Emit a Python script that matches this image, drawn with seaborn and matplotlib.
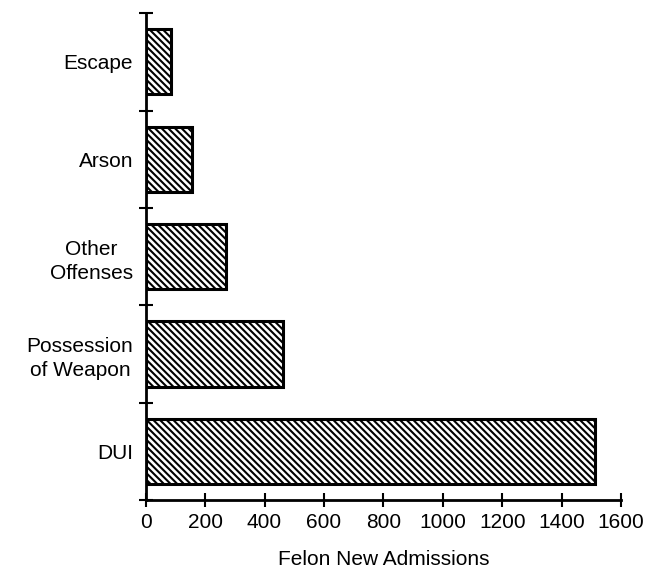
import matplotlib
matplotlib.use("Agg")
import matplotlib.pyplot as plt
import numpy as np
import pandas as pd
import seaborn as sns

sns.set_style("ticks", {"text.color": "black", "axes.labelcolor": "black",
                        "xtick.color": "black", "ytick.color": "black",
                        "axes.edgecolor": "black"})
plt.rcParams['font.family'] = ['Liberation Sans', 'DejaVu Sans']
plt.rcParams['hatch.linewidth'] = 1.5

# offense categories, top to bottom
offenses = ["Escape", "Arson", "Other\nOffenses", "Possession\nof Weapon", "DUI"]
admissions = [85, 156, 270, 461, 1513]

data = pd.DataFrame({"offense": offenses, "admissions": admissions})

fig = plt.figure(figsize=(6.52, 5.71), dpi=100)
ax = fig.add_axes([0.2235, 0.1243, 0.729, 0.8527])

sns.barplot(data=data, x="admissions", y="offense", orient="h", color="white",
            edgecolor="black", linewidth=2.2, width=0.67, saturation=1, ax=ax)

for bar in ax.patches:
    bar.set_hatch("\\" * 5)

sns.despine(ax=ax)
ax.spines['left'].set_linewidth(2)
ax.spines['bottom'].set_linewidth(2)

ax.set_xlim(0, 1600)
ax.set_ylim(len(offenses) - 0.5, -0.5)
ax.set_xticks(np.arange(0, 1601, 200))

# y ticks sit on the category boundaries, labels in the middle
ax.set_yticks(np.arange(-0.5, len(offenses)), minor=True)
ax.tick_params(axis='y', which='major', length=0, pad=9, labelsize=15)
ax.tick_params(axis='y', which='minor', direction='inout', length=10, width=1.5)
ax.tick_params(axis='x', direction='inout', length=10, width=1.5, labelsize=15, pad=4)
for lab in ax.get_yticklabels():
    lab.set_multialignment('center')
    lab.set_linespacing(1.35)

ax.set_ylabel("")
ax.set_xlabel("Felon New Admissions", fontsize=15, labelpad=13)

plt.savefig("out.png", dpi=100)
